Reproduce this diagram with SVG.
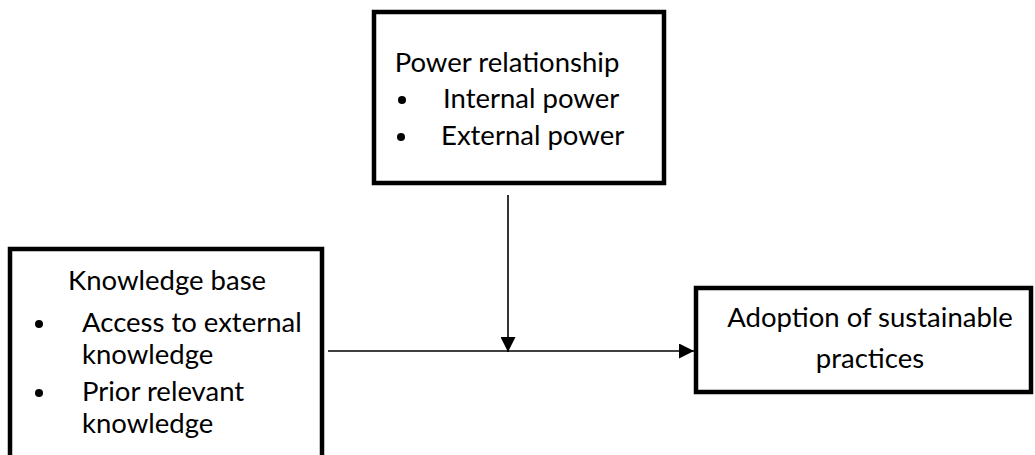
<svg xmlns="http://www.w3.org/2000/svg" width="1035" height="455" viewBox="0 0 1035 455">
<defs>
<style>
.box{fill:#fff;stroke:#000;stroke-width:4.5}
.t{font-family:Lato,"Open Sans","Liberation Sans",sans-serif;font-size:27.5px;fill:#000}
.c{stroke:#000;stroke-width:1.6;fill:none}
</style>
<marker id="ah2" viewBox="0 0 15 15" refX="15" refY="7.5" markerWidth="15" markerHeight="15" markerUnits="userSpaceOnUse" orient="auto">
<path d="M0,0 L15,7.5 L0,15 Z" fill="#000"/>
</marker>
</defs>
<g id="power">
<rect class="box" x="374" y="12" width="290" height="171"/>
<text class="t" x="507" y="72" text-anchor="middle">Power relationship</text>
<circle cx="402" cy="100" r="4"/>
<text class="t" x="443" y="108">Internal power</text>
<circle cx="401" cy="137" r="4"/>
<text class="t" x="441" y="145">External power</text>
</g>
<g id="knowledge">
<rect class="box" x="10" y="249" width="312" height="215"/>
<text class="t" x="68" y="290">Knowledge base</text>
<circle cx="39" cy="324" r="4"/>
<text class="t" x="82" y="332">Access to external</text>
<text class="t" x="82" y="364">knowledge</text>
<circle cx="39" cy="393" r="4"/>
<text class="t" x="82" y="401">Prior relevant</text>
<text class="t" x="82" y="433">knowledge</text>
</g>
<g id="adoption">
<rect class="box" x="696" y="288" width="335" height="104"/>
<text class="t" x="870" y="327" text-anchor="middle">Adoption of sustainable</text>
<text class="t" x="870" y="368" text-anchor="middle">practices</text>
</g>
<g id="connectors">
<line class="c" x1="508" y1="195" x2="508" y2="352" marker-end="url(#ah2)"/>
<line class="c" x1="328" y1="351" x2="694" y2="351" marker-end="url(#ah2)"/>
</g>
</svg>
